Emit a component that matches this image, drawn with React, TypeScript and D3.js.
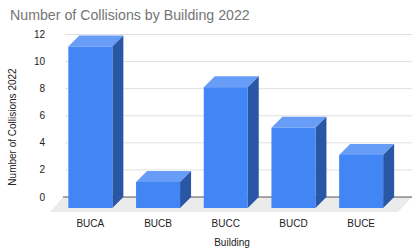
import React from "react";
import * as d3 from "d3";

const buildings = ["BUCA", "BUCB", "BUCC", "BUCD", "BUCE"];
const collisions = [11, 1, 8, 5, 3];
const yTicks = [0, 2, 4, 6, 8, 10, 12];

const W = 417;
const H = 250;
const depth = 11;
const font = "'Liberation Sans', Arial, sans-serif";

const App: React.FC = () => {
  const y = d3.scaleLinear().domain([0, 12]).range([197, 34.5]);
  const x = d3.scalePoint<string>().domain(buildings).range([56.5, 395]).padding(0.5);
  const barW = x.step() * 0.65;
  const gridX0 = 65;
  const gridX1 = 412;
  const floorFront = y(0) + 15;
  const frontBottom = y(0) + depth;

  return (
    <svg width={W} height={H} style={{ position: "absolute", left: 0, top: 0 }}>
      <rect width={W} height={H} fill="#fff" />
      <text x={10} y={20} fontFamily={font} fontSize={14.2} fill="#757575">
        Number of Collisions by Building 2022
      </text>

      {/* floor */}
      <polygon
        points={`${gridX0 - 2},${y(0)} ${gridX1},${y(0)} ${gridX1 - 14},${floorFront} 50,${floorFront}`}
        fill="#ebebeb"
      />

      {/* gridlines */}
      {yTicks.map((t) => (
        <g key={t}>
          {t > 0 && (
            <line x1={gridX0} x2={gridX1} y1={y(t)} y2={y(t)} stroke="#e0e0e0" strokeWidth={1} />
          )}
          <text x={45} y={y(t) + 3.5} textAnchor="end" fontFamily={font} fontSize={10} fill="#222">
            {t}
          </text>
        </g>
      ))}
      <line x1={gridX0 - 2} x2={gridX1} y1={y(0)} y2={y(0)} stroke="#555" strokeWidth={1} />

      {/* bars */}
      {buildings.map((b, i) => {
        const x0 = (x(b) as number) - barW / 2;
        const x1 = x0 + barW;
        const top = y(collisions[i]) - 1.5;
        return (
          <g key={b}>
            <polygon
              points={`${x0},${top} ${x1},${top} ${x1 + depth},${top - depth} ${x0 + depth},${top - depth}`}
              fill="#679df6"
            />
            <polygon
              points={`${x1},${top} ${x1 + depth},${top - depth} ${x1 + depth},${frontBottom - depth} ${x1},${frontBottom}`}
              fill="#2a56a6"
            />
            <rect x={x0} y={top} width={barW} height={frontBottom - top} fill="#4285f4" />
            <text
              x={x(b) as number}
              y={227}
              textAnchor="middle"
              fontFamily={font}
              fontSize={10}
              fill="#222"
            >
              {b}
            </text>
          </g>
        );
      })}

      <text x={232} y={246} textAnchor="middle" fontFamily={font} fontSize={10} fill="#222">
        Building
      </text>
      <text
        transform={`translate(16,127) rotate(-90)`}
        textAnchor="middle"
        fontFamily={font}
        fontSize={10}
        fill="#222"
      >
        Number of Collisions 2022
      </text>
    </svg>
  );
};

export default App;
